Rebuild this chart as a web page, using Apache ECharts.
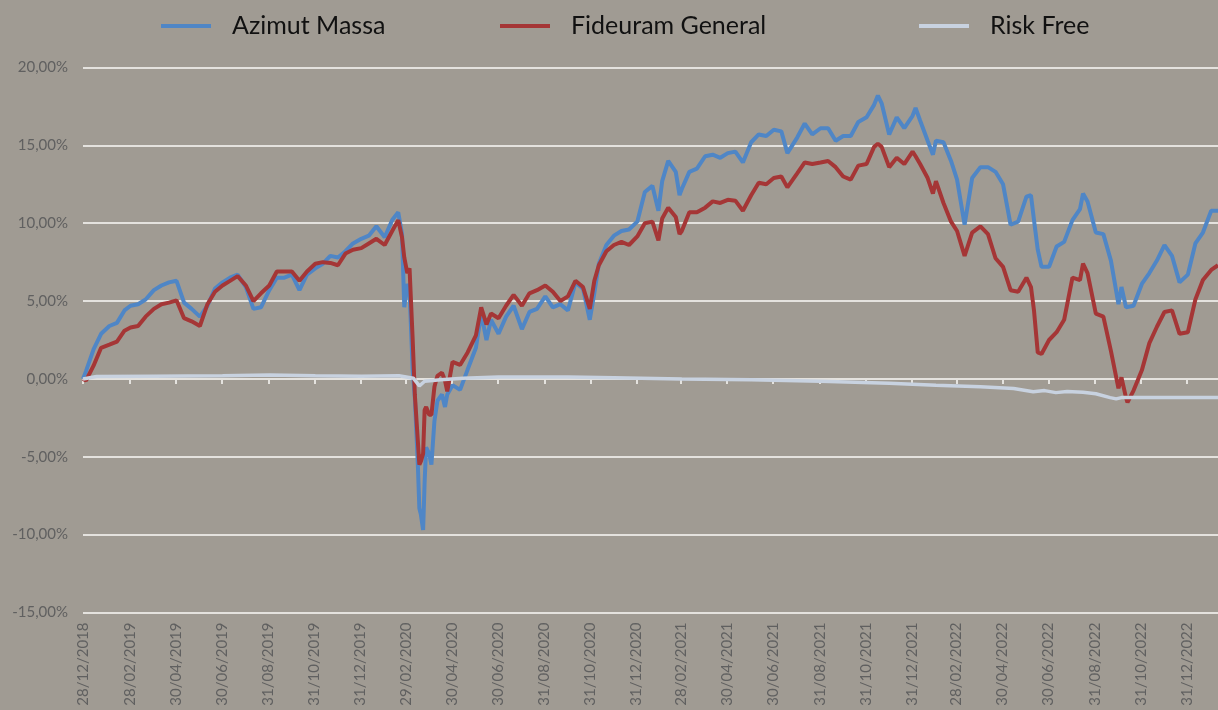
<!DOCTYPE html>
<html>
<head>
<meta charset="utf-8">
<style>
    html, body { margin: 0; padding: 0; background: #a09b93; }
    #chart { width: 1218px; height: 710px; }
</style>
</head>
<body>
<div id="chart"></div>
<script src="https://cdn.jsdelivr.net/npm/echarts@6/dist/echarts.min.js"></script>
<script>
    // sample dates shared by the two funds
    var dates = [
        '2018-12-28','2019-01-01','2019-01-11','2019-01-21','2019-02-01','2019-02-11','2019-02-21','2019-03-01','2019-03-11','2019-03-21',
        '2019-04-01','2019-04-11','2019-04-21','2019-05-01','2019-05-11','2019-05-21','2019-06-01','2019-06-11','2019-06-21','2019-07-01',
        '2019-07-11','2019-07-21','2019-08-01','2019-08-11','2019-08-21','2019-09-01','2019-09-11','2019-09-21','2019-10-01','2019-10-11',
        '2019-10-21','2019-11-01','2019-11-11','2019-11-21','2019-12-01','2019-12-11','2019-12-21','2020-01-01','2020-01-11','2020-01-21',
        '2020-02-01','2020-02-11','2020-02-19','2020-02-24','2020-02-27','2020-03-02','2020-03-05','2020-03-09','2020-03-12','2020-03-16',
        '2020-03-18','2020-03-20','2020-03-23','2020-03-25','2020-03-27','2020-03-31','2020-04-03','2020-04-07','2020-04-11','2020-04-17',
        '2020-04-21','2020-04-24','2020-05-01','2020-05-11','2020-05-21','2020-06-01','2020-06-08','2020-06-15','2020-06-21','2020-07-01',
        '2020-07-11','2020-07-21','2020-08-01','2020-08-11','2020-08-21','2020-09-01','2020-09-11','2020-09-21','2020-10-01','2020-10-11',
        '2020-10-21','2020-10-30','2020-11-05','2020-11-11','2020-11-21','2020-12-01','2020-12-11','2020-12-21','2021-01-01','2021-01-11',
        '2021-01-21','2021-01-29','2021-02-03','2021-02-11','2021-02-21','2021-02-26','2021-03-01','2021-03-11','2021-03-21','2021-04-01',
        '2021-04-11','2021-04-21','2021-05-01','2021-05-11','2021-05-21','2021-06-01','2021-06-11','2021-06-21','2021-07-01','2021-07-11',
        '2021-07-19','2021-08-01','2021-08-11','2021-08-21','2021-09-01','2021-09-11','2021-09-21','2021-10-01','2021-10-11','2021-10-21',
        '2021-11-01','2021-11-11','2021-11-16','2021-11-21','2021-12-01','2021-12-11','2021-12-21','2022-01-01','2022-01-05','2022-01-11',
        '2022-01-21','2022-01-28','2022-02-01','2022-02-11','2022-02-21','2022-03-01','2022-03-11','2022-03-21','2022-04-01','2022-04-11',
        '2022-04-21','2022-05-01','2022-05-11','2022-05-21','2022-06-01','2022-06-07','2022-06-11','2022-06-16','2022-06-21','2022-07-01',
        '2022-07-11','2022-07-21','2022-08-01','2022-08-11','2022-08-15','2022-08-21','2022-09-01','2022-09-11','2022-09-21','2022-10-01',
        '2022-10-05','2022-10-11','2022-10-13','2022-10-21','2022-11-01','2022-11-11','2022-11-21','2022-12-01','2022-12-11','2022-12-21',
        '2023-01-01','2023-01-11','2023-01-21','2023-02-01','2023-02-10'
    ];

    var azimut = [
        0.0, 0.5, 1.9, 2.9, 3.4, 3.6, 4.4, 4.7, 4.8, 5.1,
        5.7, 6.0, 6.2, 6.3, 4.9, 4.5, 4.0, 4.7, 5.8, 6.2,
        6.5, 6.7, 5.9, 4.5, 4.6, 5.7, 6.5, 6.5, 6.7, 5.7,
        6.7, 7.1, 7.4, 7.9, 7.8, 8.2, 8.7, 9.0, 9.2, 9.8,
        9.1, 10.2, 10.7, 9.3, 4.6, 6.1, 5.7, 0.7, -1.2, -5.5,
        -8.3, -8.7, -9.7, -6.6, -4.4, -4.8, -5.5, -2.7, -1.4, -1.0,
        -1.8, -1.0, -0.4, -0.7, 0.6, 2.0, 4.2, 2.5, 3.8, 2.9,
        4.0, 4.7, 3.2, 4.3, 4.5, 5.3, 4.6, 4.8, 4.4, 6.2,
        5.8, 3.8, 5.5, 7.4, 8.6, 9.2, 9.5, 9.6, 10.1, 12.0,
        12.4, 10.8, 12.7, 14.0, 13.3, 11.8, 12.2, 13.3, 13.5, 14.3,
        14.4, 14.2, 14.5, 14.6, 13.9, 15.2, 15.7, 15.6, 16.0, 15.9,
        14.5, 15.5, 16.4, 15.7, 16.1, 16.1, 15.3, 15.6, 15.6, 16.5,
        16.8, 17.6, 18.2, 17.7, 15.7, 16.8, 16.1, 16.9, 17.4, 16.6,
        15.3, 14.4, 15.3, 15.2, 14.0, 12.8, 9.9, 12.9, 13.6, 13.6,
        13.3, 12.5, 9.9, 10.1, 11.7, 11.8, 10.2, 8.3, 7.2, 7.2,
        8.5, 8.8, 10.2, 10.9, 11.9, 11.4, 9.4, 9.3, 7.6, 4.8,
        5.9, 4.6, 4.5, 4.7, 6.1, 6.8, 7.6, 8.6, 7.9, 6.2,
        6.7, 8.7, 9.4, 10.8, 10.8
    ];

    var fideuram = [
        0.0, -0.1, 0.85, 2.0, 2.2, 2.4, 3.1, 3.3, 3.4, 4.0,
        4.5, 4.8, 4.9, 5.05, 3.9, 3.7, 3.4, 4.8, 5.6, 6.0,
        6.3, 6.6, 6.0, 5.0, 5.5, 6.0, 6.9, 6.9, 6.9, 6.3,
        6.9, 7.4, 7.5, 7.45, 7.3, 8.05, 8.3, 8.4, 8.7, 9.0,
        8.6, 9.5, 10.2, 9.1, 7.8, 6.8, 7.1, 2.7, -1.0, -4.0,
        -5.5, -5.3, -4.8, -2.0, -1.8, -2.3, -2.3, -0.5, 0.2, 0.4,
        -0.1, -0.8, 1.1, 0.9, 1.7, 2.8, 4.6, 3.5, 4.2, 3.9,
        4.7, 5.4, 4.7, 5.5, 5.7, 6.0, 5.6, 5.0, 5.3, 6.3,
        5.9, 4.5, 6.3, 7.3, 8.2, 8.6, 8.8, 8.6, 9.15, 10.0,
        10.1, 8.9, 10.3, 11.0, 10.4, 9.3, 9.5, 10.7, 10.7, 11.0,
        11.4, 11.3, 11.5, 11.45, 10.8, 11.8, 12.6, 12.5, 12.9, 13.0,
        12.3, 13.2, 13.9, 13.8, 13.9, 14.0, 13.6, 13.0, 12.8, 13.7,
        13.8, 14.9, 15.1, 14.9, 13.6, 14.2, 13.8, 14.6, 14.3, 13.8,
        12.9, 11.9, 12.7, 11.3, 10.1, 9.5, 7.9, 9.4, 9.8, 9.3,
        7.75, 7.2, 5.7, 5.6, 6.5, 5.9, 4.4, 1.7, 1.6, 2.5,
        3.0, 3.8, 6.5, 6.35, 7.4, 6.8, 4.2, 4.0, 1.8, -0.6,
        0.1, -1.2, -1.5, -0.75, 0.55, 2.3, 3.35, 4.3, 4.4, 2.9,
        3.0, 5.1, 6.35, 7.0, 7.3
    ];

    var rfDates = [
        '2018-12-28','2019-01-15','2019-04-01','2019-07-01','2019-09-01','2019-11-01','2020-01-01','2020-02-20','2020-03-10','2020-03-18',
        '2020-03-25','2020-04-15','2020-05-15','2020-07-01','2020-10-01','2020-12-01','2021-03-01','2021-06-01','2021-09-01','2021-12-01',
        '2022-02-01','2022-04-01','2022-05-15','2022-06-10','2022-06-25','2022-07-10','2022-07-25','2022-08-15','2022-09-01','2022-09-20',
        '2022-09-28','2022-10-05','2023-02-10'
    ];
    var riskFree = [
        0.0, 0.15, 0.18, 0.2, 0.25, 0.2, 0.18, 0.2, 0.05, -0.45,
        -0.15, -0.05, 0.05, 0.12, 0.12, 0.08, 0.0, -0.05, -0.15, -0.28,
        -0.4, -0.5, -0.62, -0.82, -0.75, -0.88, -0.8, -0.85, -0.95, -1.2,
        -1.28, -1.2, -1.2
    ];

    var tickDates = [
        '2018-12-28','2019-02-28','2019-04-30','2019-06-30','2019-08-31','2019-10-31','2019-12-31',
        '2020-02-29','2020-04-30','2020-06-30','2020-08-31','2020-10-31','2020-12-31',
        '2021-02-28','2021-04-30','2021-06-30','2021-08-31','2021-10-31','2021-12-31',
        '2022-02-28','2022-04-30','2022-06-30','2022-08-31','2022-10-31','2022-12-31'
    ];

    function toTime(s) {
        var p = s.split('-');
        return new Date(+p[0], +p[1] - 1, +p[2]).getTime();
    }
    function pairs(xs, ys) {
        return xs.map(function (d, i) { return [toTime(d), ys[i]]; });
    }
    function pad(n) { return (n < 10 ? '0' : '') + n; }
    function fmtDate(v) {
        var d = new Date(v);
        return pad(d.getDate()) + '/' + pad(d.getMonth() + 1) + '/' + d.getFullYear();
    }

    var ticks = tickDates.map(toTime);
    var xMin = toTime('2018-12-28');
    var xMax = toTime('2023-02-10');
    var gridColor = '#e4e2de';
    var labelColor = '#606060';
    var font = 'Lato';

    var chart = echarts.init(document.getElementById('chart'));

    function legendAt(name, left) {
        return {
            data: [name],
            left: left,
            top: 11,
            padding: 0,
            icon: 'rect',
            itemWidth: 50,
            itemHeight: 4,
            textStyle: {
                color: '#111',
                fontFamily: font,
                fontSize: 25,
                lineHeight: 30,
                padding: [0, 0, 0, 16]
            }
        };
    }

    chart.setOption({
        backgroundColor: '#a09b93',
        animation: false,
        legend: [
            legendAt('Azimut Massa', 161),
            legendAt('Fideuram General', 500),
            legendAt('Risk Free', 919)
        ],
        grid: {
            left: 83,
            right: 0,
            top: 67.5,
            bottom: 97.5
        },
        xAxis: [{
            type: 'value',
            min: xMin,
            max: xMax,
            position: 'bottom',
            axisLine: { show: false, onZero: false },
            axisTick: { show: false },
            splitLine: { show: false },
            axisLabel: {
                customValues: ticks,
                rotate: 90,
                margin: 10,
                color: labelColor,
                fontFamily: font,
                fontSize: 15,
                formatter: fmtDate
            }
        }, {
            type: 'value',
            min: xMin,
            max: xMax,
            position: 'top',
            axisLine: {
                show: true,
                onZero: true,
                lineStyle: { color: gridColor, width: 2 }
            },
            axisTick: {
                show: true,
                inside: true,
                length: 5,
                customValues: ticks,
                lineStyle: { color: gridColor, width: 2 }
            },
            axisLabel: { show: false },
            splitLine: { show: false }
        }],
        yAxis: {
            type: 'value',
            min: -15,
            max: 20,
            interval: 5,
            axisLine: { show: false },
            axisTick: { show: false },
            splitLine: { lineStyle: { color: gridColor, width: 2 } },
            axisLabel: {
                margin: 15,
                color: labelColor,
                fontFamily: font,
                fontSize: 15,
                formatter: function (v) { return v.toFixed(2).replace('.', ',') + '%'; }
            }
        },
        series: [{
            name: 'Azimut Massa',
            type: 'line',
            symbol: 'none',
            color: '#4f86c6',
            lineStyle: { width: 4 },
            data: pairs(dates, azimut)
        }, {
            name: 'Fideuram General',
            type: 'line',
            symbol: 'none',
            color: '#a53636',
            lineStyle: { width: 4 },
            data: pairs(dates, fideuram)
        }, {
            name: 'Risk Free',
            type: 'line',
            symbol: 'none',
            color: '#c8d2e0',
            lineStyle: { width: 3.5 },
            data: pairs(rfDates, riskFree)
        }]
    });
</script>
</body>
</html>
